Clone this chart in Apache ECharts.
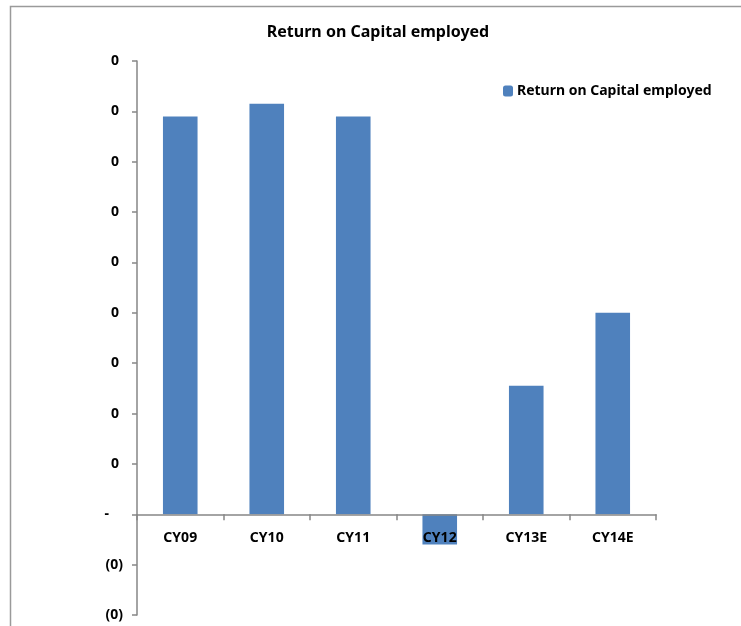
<!DOCTYPE html>
<html>
<head>
<meta charset="utf-8">
<style>
  html, body { margin: 0; padding: 0; background: #ffffff; }
  #chart { width: 741px; height: 626px; }
</style>
<script src="https://cdn.jsdelivr.net/npm/echarts@6/dist/echarts.min.js"></script>
</head>
<body>
<div id="chart"></div>
<script>
// Return on capital employed by calendar year (E = estimate)
const categories = ['CY09', 'CY10', 'CY11', 'CY12', 'CY13E', 'CY14E'];
const roceValues = [0.158, 0.163, 0.158, -0.012, 0.051, 0.080];
const seriesName = 'Return on Capital employed';

const FONT = '"Noto Sans", "DejaVu Sans", sans-serif';
const Y_MIN = -0.04, Y_MAX = 0.18, Y_STEP = 0.02;

// Accounting-style tick labels: zero as a dash, negatives in parentheses,
// positives leave room for the closing parenthesis
function tickLabel(v) {
  if (Math.abs(v) < 1e-9) return '{z|-}';
  const s = Math.round(Math.abs(v)).toString();
  return v < 0 ? '{n|(' + s + ')}' : '{p|' + s + '}';
}

const labelFont = { fontFamily: FONT, fontSize: 14, fontWeight: 'bold', color: '#000' };

const chart = echarts.init(document.getElementById('chart'), null, { renderer: 'canvas' });
const grid = { left: 137, top: 61, right: 85, bottom: 11, containLabel: false, outerBoundsMode: 'none' };

chart.setOption({
  backgroundColor: '#ffffff',
  animation: false,
  title: {
    text: 'Return on Capital employed',
    left: 373,
    top: 19,
    textAlign: 'center',
    textStyle: { fontFamily: FONT, fontSize: 16, fontWeight: 'bold', color: '#000' }
  },
  legend: {
    data: [seriesName],
    left: 503,
    top: 84,
    padding: 0,
    itemWidth: 10,
    itemHeight: 11,
    itemGap: 4,
    textStyle: Object.assign({}, labelFont, { padding: [0, 0, 0, -1] })
  },
  graphic: [{
    type: 'rect',
    shape: { x: 10.5, y: 6.5, width: 900, height: 800 },
    style: { fill: 'none', stroke: '#9a9a9a', lineWidth: 1.5 },
    silent: true
  }],
  grid: grid,
  xAxis: {
    type: 'category',
    data: categories,
    position: 'bottom',
    offset: 0,
    z: 5,
    axisLine: { onZero: false, lineStyle: { color: '#868686', width: 1.5 } },
    axisTick: { show: true, inside: false, length: 6, alignWithLabel: false, lineStyle: { color: '#868686', width: 1.5 } },
    axisLabel: Object.assign({}, labelFont, { margin: 17 }),
    splitLine: { show: false }
  },
  yAxis: {
    type: 'value',
    min: Y_MIN,
    max: Y_MAX,
    interval: Y_STEP,
    axisLine: { show: true, lineStyle: { color: '#868686', width: 1.5 } },
    axisTick: { show: true, length: 5, lineStyle: { color: '#868686', width: 1.5 } },
    axisLabel: Object.assign({}, labelFont, {
      margin: 14,
      formatter: tickLabel,
      rich: {
        p: Object.assign({}, labelFont, { padding: [0, 4, 0, 0] }),
        n: Object.assign({}, labelFont),
        z: Object.assign({}, labelFont, { padding: [0, 14, 0, 0] })
      }
    }),
    splitLine: { show: false }
  },
  series: [{
    name: seriesName,
    type: 'bar',
    z: 2,
    data: roceValues,
    barWidth: '40%',
    itemStyle: { color: '#4f81bd' }
  }]
});

// Category axis (line, ticks and labels) sits on the zero line of the value scale
const zeroY = chart.convertToPixel({ yAxisIndex: 0 }, 0);
const baseY = chart.convertToPixel({ yAxisIndex: 0 }, Y_MIN);
chart.setOption({ xAxis: { offset: zeroY - baseY } });
</script>
</body>
</html>
